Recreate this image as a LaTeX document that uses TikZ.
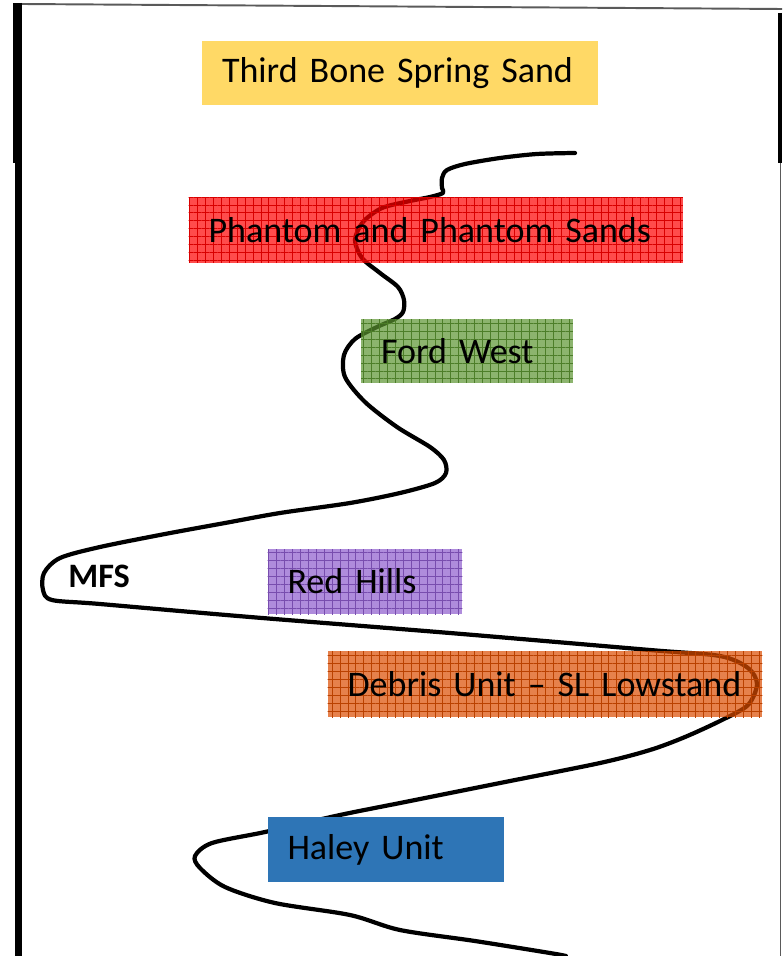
\documentclass[tikz,border=0pt]{standalone}
\usepackage{fontspec}
\setmainfont{Carlito}
\usepackage{xcolor}
\usepackage{tikz}
\usetikzlibrary{patterns,patterns.meta}

\definecolor{sandyellow}{HTML}{FFD966}
\definecolor{phantomred}{HTML}{FF0000}
\definecolor{fordgreen}{HTML}{5B9430}
\definecolor{hillspurple}{HTML}{8D5BCD}
\definecolor{debrisorange}{HTML}{DB4C00}
\definecolor{haleyblue}{HTML}{2E75B6}
\definecolor{framegray}{HTML}{5A5A5A}

\begin{document}
\begin{tikzpicture}[x=0.02cm, y=-0.02cm, every node/.style={font=\fontsize{20.5}{24}\selectfont},
    unitbox/.style={inner xsep=0.4cm, inner ysep=0pt, align=left},
    gridbox/.style={unitbox, fill=#1, fill opacity=0.7, text opacity=1,
        postaction={pattern={Hatch[distance=4.5pt, angle=0, line width=0.4pt]}, pattern color=#1!85!black}},
    logcurve/.style={line width=2.4pt, line cap=round, line join=round}]

\useasboundingbox (0,0) rectangle (782,956);

% Frame
\draw[framegray, line width=1.1pt] (22,4) -- (782,9);
\draw[black, line width=5.6pt] (17.5,3) -- (17.5,163);
\draw[black, line width=4.2pt] (18.8,163) -- (18.8,956);
\draw[black, line width=2.8pt] (780,13) -- (780,163);
\draw[framegray, line width=0.85pt] (780.5,163) -- (780.5,956);

% Sea level curve
\draw[logcurve] plot[smooth, tension=0.5] coordinates {
    (575,153) (537,154) (500,158) (465,164) (447,170) (442,178) (442,188) (443,193)
    (430,197) (410,201) (382,208) (363,222) (355,240) (362,258) (380,273) (398,287)
    (404,300) (403,312) (395,319) (377,327) (355,339) (344,355) (345,377) (365,402)
    (397,427) (430,447) (444,460) (446,473) (435,483) (400,493) (350,503) (280,513)
    (225,523) (165,534) (100,547) (60,558) (44,573) (43,590) (52,600) (100,604)
    (250,617) (450,633) (650,650) (720,656) (748,668) (757,684) (748,705) (722,720)
    (685,737) (650,750) (600,763) (500,783) (400,803) (340,815) (265,832) (212,843)
    (195,856) (200,868) (225,887) (275,903) (350,915) (400,930) (475,941) (550,953)
    (566,956)};

% Units
\node[unitbox, fill=sandyellow, minimum width=7.92cm, minimum height=1.28cm, text width=7.12cm] (tbs) at (400,73) {Third Bone Spring Sand};

\node[gridbox=phantomred, minimum width=9.89cm, minimum height=1.32cm, text width=9.09cm] (phantom) at (435.75,230) {Phantom and Phantom Sands};

\node[gridbox=fordgreen, minimum width=4.24cm, minimum height=1.28cm, text width=3.44cm] (ford) at (467,351) {Ford West};

\node[gridbox=hillspurple, minimum width=3.9cm, minimum height=1.3cm, text width=3.1cm] (redhills) at (365,581.5) {Red Hills};

\node[gridbox=debrisorange, minimum width=8.7cm, minimum height=1.32cm, text width=7.9cm] (debris) at (545,684) {Debris Unit -- SL Lowstand};

\node[unitbox, fill=haleyblue, minimum width=4.73cm, minimum height=1.3cm, text width=3.93cm] (haley) at (385.75,849.5) {Haley Unit};

% Maximum flooding surface
\node[anchor=base west, inner sep=0pt, font=\fontsize{19.5}{23}\selectfont\bfseries] (mfs) at (68,587) {MFS};

\end{tikzpicture}
\end{document}
